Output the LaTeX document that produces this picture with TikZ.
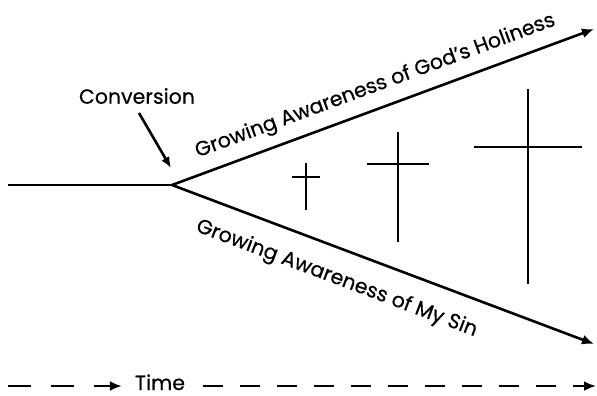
\documentclass[tikz,border=0pt]{standalone}
\usepackage{fontspec}
\setmainfont{Poppins}
\newfontfamily\lblfont{Poppins}[UprightFeatures={FakeBold=0.5}]
\usetikzlibrary{arrows.meta,positioning}
\tikzset{
  ln/.style={line width=2.6pt},
  ar/.style={-{Latex[length=12pt,width=10pt]},line width=2.6pt},
  lbl/.style={font=\fontsize{20.5}{24}\selectfont\lblfont,inner sep=2pt}
}
\newcommand{\crossat}[5]{%
  \draw[ln] (#1,#2)--(#1,#3);
  \draw[ln] (#1-#5,#4)--(#1+#5,#4);}
\begin{document}
\begin{tikzpicture}[x=1pt,y=-1pt]
\useasboundingbox (0,0) rectangle (597,396);
\coordinate (start) at (8,185);
\coordinate (fork) at (172,185);
\coordinate (holy) at (594,29);
\coordinate (sin) at (594,344);
\draw[ln] (start)--(fork);
\draw[ar] (fork)--(holy) node[pos=0.5,sloped,above=8pt,lbl]{Growing Awareness of God’s Holiness};
\draw[ar] (fork)--(sin) node[pos=0.415,sloped,below=16pt,lbl]{Growing Awareness of My Sin};
\node[lbl] (conv) at (137,96) {Conversion};
\coordinate (cv) at (139,113);
\draw[ar,-{Latex[length=11pt,width=9pt]}] (cv)--(171,168);
% crosses
\crossat{306}{163}{210}{177}{14}
\crossat{398}{132}{242}{164}{31}
\crossat{528}{89}{284}{147}{54}
% time axis
\node[lbl,anchor=base,inner sep=0pt] (time) at (160,390) {Time};
\coordinate (t0) at (8,386);
\coordinate (t1) at (596,386);
\draw[ar,dash pattern=on 23pt off 20pt] (t0)--([xshift=-13pt]time.west|-t0);
\draw[ar,dash pattern=on 20pt off 17pt] ([xshift=18pt]time.east|-t0)--(t1);
\end{tikzpicture}
\end{document}
